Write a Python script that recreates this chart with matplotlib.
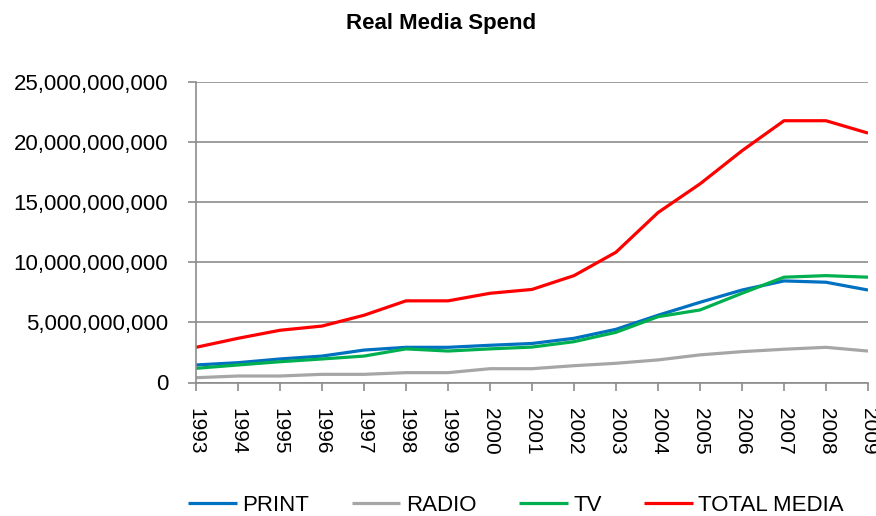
import numpy as np
import matplotlib
matplotlib.use("Agg")
import matplotlib.pyplot as plt
from matplotlib.ticker import FuncFormatter

plt.rcParams['font.family'] = ['Liberation Sans', 'DejaVu Sans']

years = list(range(1993, 2010))

# values
print_spend = [1.46e9, 1.65e9, 1.96e9, 2.2e9, 2.7e9, 2.93e9, 2.93e9, 3.1e9, 3.25e9,
               3.68e9, 4.43e9, 5.6e9, 6.68e9, 7.7e9, 8.46e9, 8.35e9, 7.7e9]
radio_spend = [0.4e9, 0.54e9, 0.54e9, 0.68e9, 0.68e9, 0.82e9, 0.82e9, 1.15e9, 1.15e9,
               1.4e9, 1.6e9, 1.88e9, 2.3e9, 2.57e9, 2.77e9, 2.93e9, 2.62e9]
tv_spend = [1.18e9, 1.46e9, 1.73e9, 1.96e9, 2.2e9, 2.8e9, 2.62e9, 2.8e9, 2.95e9,
            3.4e9, 4.18e9, 5.48e9, 6.04e9, 7.43e9, 8.77e9, 8.9e9, 8.77e9]
total_spend = [2.93e9, 3.68e9, 4.35e9, 4.7e9, 5.6e9, 6.8e9, 6.8e9, 7.43e9, 7.75e9,
               8.9e9, 10.85e9, 14.15e9, 16.54e9, 19.3e9, 21.8e9, 21.8e9, 20.77e9]

series = [("PRINT", print_spend, "#0070C0"),
          ("RADIO", radio_spend, "#A6A6A6"),
          ("TV", tv_spend, "#00B050"),
          ("TOTAL MEDIA", total_spend, "#FF0000")]

fig = plt.figure(figsize=(8.76, 5.16), dpi=100)
ax = fig.add_axes([196 / 876, 1 - 382.5 / 516, 672 / 876, 300.2 / 516])

for name, vals, color in series:
    ax.plot(years, vals, color=color, linewidth=2.3, label=name, solid_capstyle='butt')

ax.set_xlim(1993, 2009)
ax.set_ylim(0, 25e9)
ax.set_yticks(np.arange(0, 25e9 + 1, 5e9))
ax.yaxis.set_major_formatter(FuncFormatter(lambda v, p: f"{int(v):,}"))
ax.set_xticks(years)
ax.set_xticklabels([str(y) for y in years], rotation=270)

ax.grid(axis='y', color='#8c8c8c', linewidth=1.2)
ax.set_axisbelow(True)
for s in ['top', 'right']:
    ax.spines[s].set_visible(False)
for s in ['left', 'bottom']:
    ax.spines[s].set_color('#8c8c8c')
    ax.spines[s].set_linewidth(1.2)

ax.tick_params(axis='y', colors='#8c8c8c', labelcolor='black', labelsize=16,
               length=6, width=1.2, pad=14)
ax.tick_params(axis='x', colors='#8c8c8c', labelcolor='black', labelsize=15,
               length=6, width=1.2, pad=12)

fig.text(0.503, 0.955, "Real Media Spend", ha='center', va='center',
         fontsize=16, fontweight='bold')

fig.legend(loc='center', bbox_to_anchor=(0.589, 0.02), ncol=4, frameon=False,
           fontsize=16, handlelength=2.2, handletextpad=0.25, columnspacing=1.9)

fig.savefig("out.png", dpi=100)
